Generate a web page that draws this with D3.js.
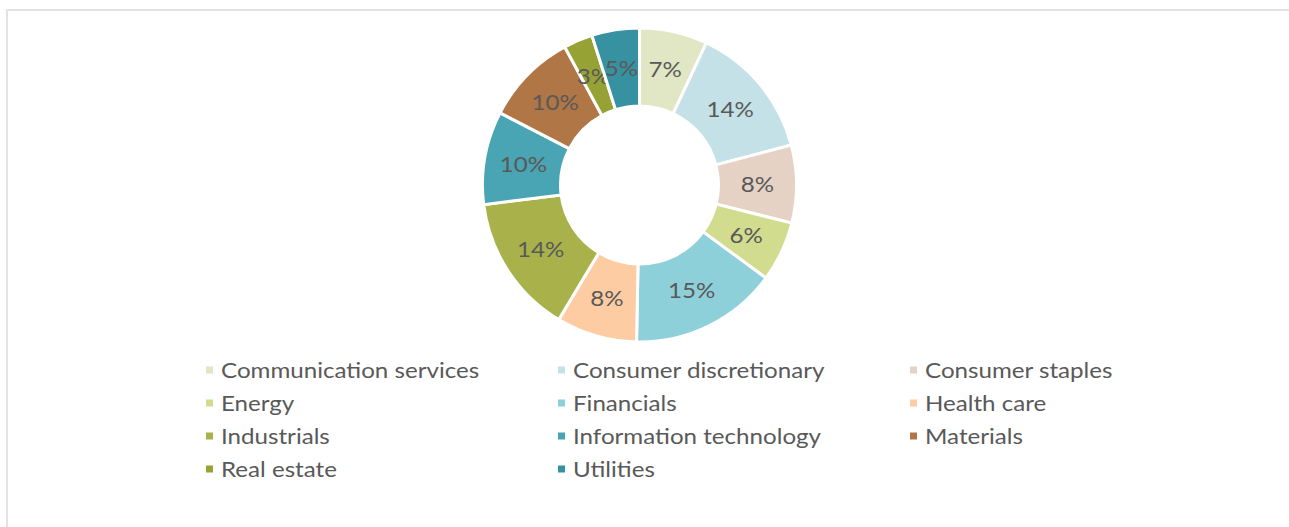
<!DOCTYPE html>
<html>
<head>
<meta charset="utf-8">
<script src="https://cdn.jsdelivr.net/npm/d3@7"></script>
<style>
  body { margin: 0; background: #fff; }
  svg text { font-family: Lato, "Open Sans", sans-serif; fill: #595959; }
</style>
</head>
<body>
<svg id="chart" width="1289" height="527"></svg>
<script>
const sectors = [
    'Communication services', 'Consumer discretionary', 'Consumer staples',
    'Energy', 'Financials', 'Health care',
    'Industrials', 'Information technology', 'Materials',
    'Real estate', 'Utilities'
]
const weights = [7.0, 13.9, 8.0, 6.2, 15.2, 8.3, 14.4, 9.6, 9.5, 3.0, 4.9]
const sectorColors = [
    '#e1e6c4', '#c3e1e6', '#e5d2c4', '#d2dc8f', '#8ed0da', '#fecca3',
    '#a9b14b', '#49a4b4', '#b07646', '#97a235', '#3692a1'
]

const width = 1289
const height = 527
const svg = d3.select('#chart')

// text in the original is a little stretched sideways
const stretch = 1.15
const fontSize = '21px'

// light frame round the chart area (only top and left show)
svg.append('rect')
    .attr('x', 7)
    .attr('y', 10)
    .attr('width', width + 20)
    .attr('height', height + 20)
    .attr('fill', 'none')
    .attr('stroke', '#e3e3e3')
    .attr('stroke-width', 2)

const cx = 639.5
const cy = 185
const outerR = 157
const innerR = 79

const total = d3.sum(weights)
const data = sectors.map((name, i) => ({ name, value: weights[i], color: sectorColors[i] }))

const pie = d3.pie().sort(null).value((d) => d.value)
const arc = d3.arc().innerRadius(innerR).outerRadius(outerR)
const labelArc = d3.arc().innerRadius((innerR + outerR) / 2).outerRadius((innerR + outerR) / 2)

const donut = svg.append('g').attr('transform', `translate(${cx}, ${cy})`)
const slices = donut.selectAll('g')
    .data(pie(data))
    .enter()
    .append('g')

slices.append('path')
    .attr('d', arc)
    .attr('fill', (d) => d.data.color)
    .attr('stroke', '#fff')
    .attr('stroke-width', 3)

slices.append('text')
    .attr('transform', (d) => `translate(${labelArc.centroid(d)}) scale(${stretch}, 1)`)
    .attr('text-anchor', 'middle')
    .attr('dy', '0.36em')
    .style('font-size', fontSize)
    .text((d) => Math.round(d.data.value / total * 100) + '%')

const legendX = 206
const legendY = 370
const legendColW = 352
const legendRowH = 33
const legendRect = 7
const legendPerRow = 3

const legendElem = svg.append('g')
    .selectAll('g')
    .data(data)
    .enter()
    .append('g')
    .attr('transform', (d, i) => `translate(${legendX + (i % legendPerRow) * legendColW}, ${legendY + Math.floor(i / legendPerRow) * legendRowH})`)

legendElem.append('rect')
    .attr('y', -legendRect / 2)
    .attr('width', legendRect)
    .attr('height', legendRect)
    .attr('fill', (d) => d.color)

legendElem.append('text')
    .attr('transform', `translate(15, 0) scale(${stretch}, 1)`)
    .attr('dy', '0.36em')
    .style('font-size', fontSize)
    .text((d) => d.name)
</script>
</body>
</html>
